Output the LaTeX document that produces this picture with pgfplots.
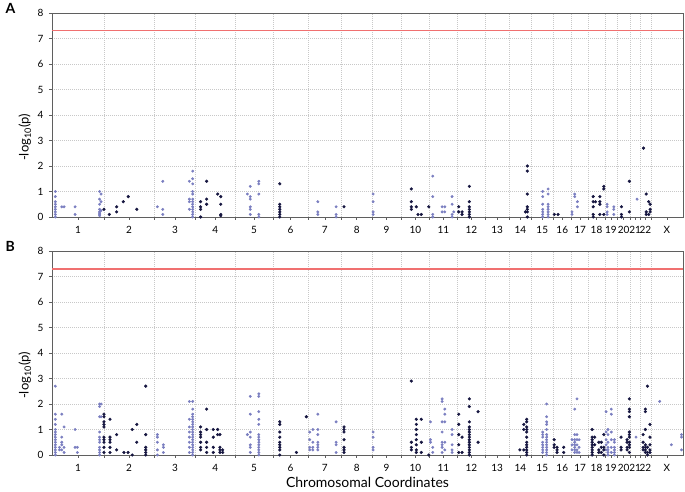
\documentclass[border=0pt]{standalone}
\usepackage{pgfplots}
\pgfplotsset{compat=1.18}
\usepackage{fontspec}
\setmainfont{Lato}

\definecolor{chrodd}{RGB}{122,126,192}
\definecolor{chreven}{RGB}{22,22,64}
\definecolor{sigline}{RGB}{240,112,112}
\definecolor{gridc}{RGB}{200,200,200}
\definecolor{framec}{RGB}{95,95,95}

\pgfplotsset{
  manh/.style={
    scale only axis, width=631pt, height=204pt,
    xmin=0, xmax=3036, ymin=0, ymax=8,
    ytick={0,1,...,8},
    % chromosome midpoints (cumulative Mb)
    xtick={125,371,592,786,972,1148,1313,1466,1610,1748,1883,2018,2142,2254,2359,2455,2541,2620,2689,2750,2806,2855,2958},
    xticklabels={1,2,3,4,5,6,7,8,9,10,11,12,13,14,15,16,17,18,19,20,21,22,X},
    % chromosome boundaries
    extra x ticks={249,493,691,882,1063,1234,1393,1539,1680,1816,1951,2085,2200,2307,2410,2500,2581,2660,2719,2782,2830,2881},
    extra x tick labels={},
    extra x tick style={grid=major},
    ymajorgrids,
    grid style={dash pattern=on 0.8pt off 1.2pt, gridc, line width=0.5pt},
    tick align=outside, major tick length=3pt, tick pos=left,
    axis line style={framec, line width=0.8pt},
    tick style={framec, line width=0.5pt},
    ticklabel style={font=\fontsize{10}{12}\selectfont, text=black},
    xticklabel style={yshift=-3pt},
    yticklabel style={xshift=-2pt},
    /pgf/number format/assume math mode=true,
    ylabel={-log\textsubscript{10}(p)},
    ylabel style={font=\fontsize{13}{15}\selectfont, at={(axis description cs:-0.043,0.39)}, anchor=center},
    clip=false,
  },
  odd/.style={only marks, mark=*, mark size=1.25pt, chrodd},
  even/.style={only marks, mark=*, mark size=1.4pt, chreven},
}

\begin{document}
\begin{tikzpicture}
\useasboundingbox (0pt,0pt) rectangle (685pt,492pt);

\node[anchor=north west, font=\bfseries\fontsize{14}{16}\selectfont] at (2pt,492pt) {A};
\node[anchor=north west, font=\bfseries\fontsize{14}{16}\selectfont] at (2pt,254pt) {B};

% ---------- panel A ----------
\begin{axis}[manh, at={(52pt,275pt)}, anchor=south west]
\addplot[sigline, line width=1.3pt] coordinates {(0,7.3) (3036,7.3)};
\addplot[odd] coordinates {
(16,1.0)(16,0.8)(16,0.6)(16,0.5)(16,0.4)(16,0.3)(16,0.2)(16,0.1)(16,0)
(47,0.4)(58,0.4)(111,0.4)(111,0.1)
(229,1.0)(229,0.7)(229,0.5)(229,0.3)(229,0.2)(229,0.15)(229,0.1)(229,0.05)(236,0.9)(236,0.6)(236,0.25)
(507,0.4)(533,1.4)(533,0.3)(533,0.1)
(661,1.4)(661,0.7)(661,0.6)(661,0.3)
(677,1.8)(677,1.5)(677,1.3)(677,1.0)(677,0.9)(677,0.7)(677,0.6)(677,0.5)(677,0.4)(677,0.3)(677,0.2)(677,0.1)(677,0)
(940,0.9)(954,1.2)(954,0.8)(954,0.7)(954,0.4)(954,0.3)(954,0.1)(995,1.4)(995,1.3)(995,0.9)(995,0.1)(995,0)
(1279,0.6)(1279,0.2)(1279,0.1)(1367,0.4)(1367,0.1)(1367,0)
(1545,0.9)(1545,0.6)(1545,0.2)(1545,0.1)
(1832,1.6)(1832,0.8)(1832,0.1)(1832,0)(1877,0.4)(1877,0.2)(1890,0.4)(1890,0.2)(1925,0.8)(1925,0.5)(1925,0.1)(1925,0)(1933,0.2)
(2361,1.0)(2361,0.8)(2361,0.5)(2361,0.3)(2361,0.2)(2361,0.1)(2361,0)
(2387,1.1)(2387,0.9)(2387,0.5)(2387,0.4)(2387,0.3)(2387,0.2)(2387,0.1)(2387,0)
(2502,0.2)(2502,0.1)(2515,0.9)(2515,0.8)(2528,0.6)(2528,0.4)
(2671,0.5)(2671,0.4)(2671,0.2)(2671,0.1)(2703,0.4)(2703,0.3)(2703,0.1)
(2815,0.7)
};
\addplot[even] coordinates {
(250,0.3)(276,0.1)(311,0.4)(311,0.2)(343,0.6)(367,0.8)(408,0.3)
(715,0.6)(715,0.4)(715,0.3)(715,0)(744,1.4)(744,0.7)(744,0.5)(797,0.9)(812,0.8)(812,0.5)(812,0.1)(812,0.05)
(1096,1.3)(1096,0.5)(1096,0.4)(1096,0.3)(1096,0.2)(1096,0.1)(1096,0)
(1405,0.4)
(1729,1.1)(1729,0.6)(1729,0.4)(1729,0.3)(1753,0.4)(1761,0.1)(1777,0.1)(1813,0.4)
(1957,0.4)(1957,0.2)(1973,0.2)(1973,0.1)(2008,1.2)(2008,0.6)(2008,0.4)(2008,0.3)(2008,0.2)(2008,0.1)(2008,0)
(2278,0.2)(2287,2.0)(2287,1.8)(2287,0.9)(2287,0.4)(2287,0.3)(2287,0.2)(2287,0)
(2417,0.1)(2435,0.1)
(2604,0.8)(2604,0.6)(2604,0.4)(2604,0.1)(2604,0)(2615,0.6)(2636,0.8)(2636,0.6)(2636,0.5)(2636,0.1)(2655,1.2)(2655,1.1)(2655,0.1)
(2740,0.4)(2740,0.1)(2740,0)(2778,1.4)(2778,0.2)
(2846,2.7)(2859,0.9)(2859,0.2)(2859,0.1)(2871,0.6)(2871,0.1)(2878,0.5)(2878,0.3)(2878,0.2)
};
\end{axis}

% ---------- panel B ----------
\begin{axis}[manh, at={(52pt,37pt)}, anchor=south west,
  xlabel={Chromosomal Coordinates},
  xlabel style={font=\fontsize{14}{16}\selectfont, at={(axis description cs:0.5,0)}, yshift=-27pt, anchor=center}]
\addplot[sigline, line width=1.3pt] coordinates {(0,7.3) (3036,7.3)};
\addplot[odd] coordinates {
(16,2.7)(16,1.6)(16,1.4)(16,1.2)(16,1.0)(16,0.9)(16,0.8)(16,0.7)(16,0.6)(16,0.5)(16,0.4)(16,0.3)(16,0.2)(16,0.1)(16,0)
(36,0.3)(36,0.2)(47,1.6)(47,0.7)(47,0.5)(47,0.4)(47,0.2)(58,1.1)(58,0.3)(58,0.1)
(111,1.0)(111,0.3)(122,0.3)(122,0.1)
(229,2.0)(229,1.9)(229,1.5)(229,0.9)(229,0.7)(229,0.6)(229,0.5)(229,0.3)(229,0.2)(229,0.1)(229,0)(236,2.0)(236,1.5)
(507,0.8)(507,0.7)(507,0.5)(507,0.2)(507,0)(536,0.4)(536,0.3)(536,0.1)
(661,2.1)(661,1.4)(661,1.1)(661,0.9)(661,0.7)(661,0.5)(661,0.3)(661,0.1)
(677,2.1)(677,1.8)(677,1.6)(677,1.5)(677,1.4)(677,1.3)(677,1.2)(677,1.1)(677,1.0)(677,0.9)(677,0.8)(677,0.7)(677,0.6)(677,0.5)(677,0.4)(677,0.3)(677,0.2)(677,0.1)(677,0)
(940,0.8)(954,2.3)(954,1.6)(954,0.9)(954,0.7)(954,0.4)(954,0.3)(954,0.1)
(995,2.4)(995,2.3)(995,1.7)(995,1.4)(995,1.2)(995,0.8)(995,0.7)(995,0.6)(995,0.5)(995,0.4)(995,0.3)(995,0.2)(995,0.1)(995,0)
(1240,0.9)(1240,0.6)(1240,0.3)(1240,0.2)(1255,1.0)(1255,0.5)(1255,0.3)(1255,0.2)
(1279,1.6)(1279,1.0)(1279,0.8)(1279,0.5)(1279,0.4)(1279,0.3)(1279,0.2)(1367,1.3)(1367,0.5)(1367,0.4)(1367,0.1)
(1545,0.9)(1545,0.7)(1545,0.3)(1545,0.2)
(1821,1.3)(1821,0.6)(1821,0.5)(1832,0.3)(1832,0.1)
(1877,2.2)(1877,2.1)(1877,1.3)(1877,0.9)(1877,0.5)(1877,0.4)(1877,0.3)(1877,0.1)
(1890,1.8)(1890,1.6)(1890,1.3)(1890,0.5)(1890,0.2)(1925,1.0)(1925,0.8)(1925,0.4)(1925,0.2)(1925,0.1)
(2361,0.9)(2361,0.8)(2361,0.7)(2361,0.5)(2361,0.4)(2361,0.3)(2361,0.2)(2361,0.1)
(2380,2.0)(2380,1.5)(2380,1.3)(2380,1.2)(2380,1.0)(2380,0.8)(2380,0.7)(2380,0.6)(2380,0.5)(2380,0.4)(2380,0.3)(2380,0.2)(2380,0.1)(2380,0)
(2502,0.6)(2502,0.4)(2502,0.2)(2515,1.8)(2515,0.8)(2515,0.6)(2515,0.5)(2515,0.4)(2515,0.3)(2515,0.2)(2515,0.1)
(2526,2.2)(2526,0.8)(2526,0.6)(2526,0.4)(2526,0.2)(2526,0.1)(2536,0.6)(2536,0.3)(2536,0.1)
(2666,1.7)(2666,0.9)(2666,0.6)(2666,0.4)(2666,0.2)(2675,1.0)(2675,0.8)(2675,0.5)(2675,0.3)(2675,0.2)(2675,0.1)(2675,0)
(2691,1.8)(2691,1.6)(2691,0.9)(2691,0.6)(2691,0.3)(2691,0.1)(2706,0.6)(2706,0.5)(2706,0.3)(2706,0.2)(2706,0.1)(2706,0)
(2810,0.7)
(2924,2.1)(2980,0.4)(3029,0.8)(3029,0.7)(3029,0.2)
};
\addplot[even] coordinates {
(250,1.6)(250,1.5)(250,1.3)(250,1.2)(250,1.1)(250,0.7)(250,0.6)(250,0.5)(250,0.3)(250,0.1)
(279,1.4)(279,0.7)(279,0.6)(279,0.5)(279,0.3)(279,0.1)(311,0.8)(311,0.2)(346,0.1)(366,0.1)
(386,1.0)(386,0)(408,1.2)(408,0.5)(451,2.7)(451,0.8)(451,0.3)(451,0.2)(451,0.1)(451,0)
(715,1.1)(715,0.9)(715,0.8)(715,0.7)(715,0.5)(715,0.3)(715,0.2)(744,1.8)(744,1.0)(744,0.5)(744,0.3)(744,0.1)
(776,1.0)(776,0.7)(776,0.3)(776,0.1)(797,1.0)(797,0.8)(808,0.8)(808,0.3)(808,0.2)(808,0.1)(821,0.2)(821,0.1)
(1096,1.3)(1096,1.2)(1096,0.9)(1096,0.7)(1096,0.5)(1096,0.4)(1096,0.3)(1096,0.2)(1096,0)(1176,0.1)(1224,1.5)
(1405,1.1)(1405,1.0)(1405,0.9)(1405,0.6)(1405,0.3)(1405,0.2)(1405,0.1)
(1729,2.9)(1729,0.5)(1729,0.3)(1729,0.2)
(1753,1.4)(1753,1.2)(1753,1.0)(1753,0.8)(1753,0.6)(1753,0.4)(1753,0.2)(1753,0.1)(1777,1.4)(1777,0.5)(1777,0.1)(1813,0)
(1957,1.6)(1957,1.2)(1957,0.8)(1957,0.4)(1957,0.1)(1973,0.7)(1973,0.1)
(2008,2.2)(2008,1.9)(2008,1.3)(2008,1.1)(2008,1.0)(2008,0.9)(2008,0.8)(2008,0.7)(2008,0.6)(2008,0.5)(2008,0.4)(2008,0.3)(2008,0.2)(2008,0.1)(2008,0)
(2050,1.7)(2050,0.5)
(2251,0.2)(2270,1.2)(2270,1.0)(2270,0.2)
(2284,1.4)(2284,1.3)(2284,1.1)(2284,1.0)(2284,0.9)(2284,0.7)(2284,0.5)(2284,0.4)(2284,0.3)(2284,0.2)(2284,0.1)(2284,0)
(2416,0.6)(2416,0.4)(2416,0.3)(2430,0.3)(2430,0.2)(2430,0.1)(2462,0.3)(2462,0.1)
(2599,1.0)(2599,0.7)(2599,0.6)(2599,0.5)(2599,0.4)(2599,0.3)(2599,0.2)(2599,0.1)(2599,0)
(2611,0.7)(2611,0.4)(2631,0.5)(2631,0.2)(2631,0.1)(2643,0.5)(2643,0.3)(2643,0.1)(2655,0.8)(2655,0.3)(2655,0.2)(2655,0)
(2738,0.7)(2738,0.3)(2738,0.2)(2767,0.6)(2767,0.5)(2767,0.3)(2767,0.2)
(2778,2.2)(2778,1.8)(2778,1.7)(2778,1.5)(2778,0.9)(2778,0.8)(2778,0.7)(2778,0.5)(2778,0.4)(2778,0.3)(2778,0.1)
(2844,0.8)(2844,0.5)(2844,0.3)(2844,0.2)(2855,1.8)(2855,1.7)(2855,1.0)(2855,0.4)(2855,0.3)(2855,0.2)(2855,0.1)
(2865,2.7)(2865,0.3)(2865,0.1)(2865,0)(2877,1.2)(2877,0.7)(2877,0.4)(2877,0.2)(2877,0.1)
};
\end{axis}
\end{tikzpicture}
\end{document}
